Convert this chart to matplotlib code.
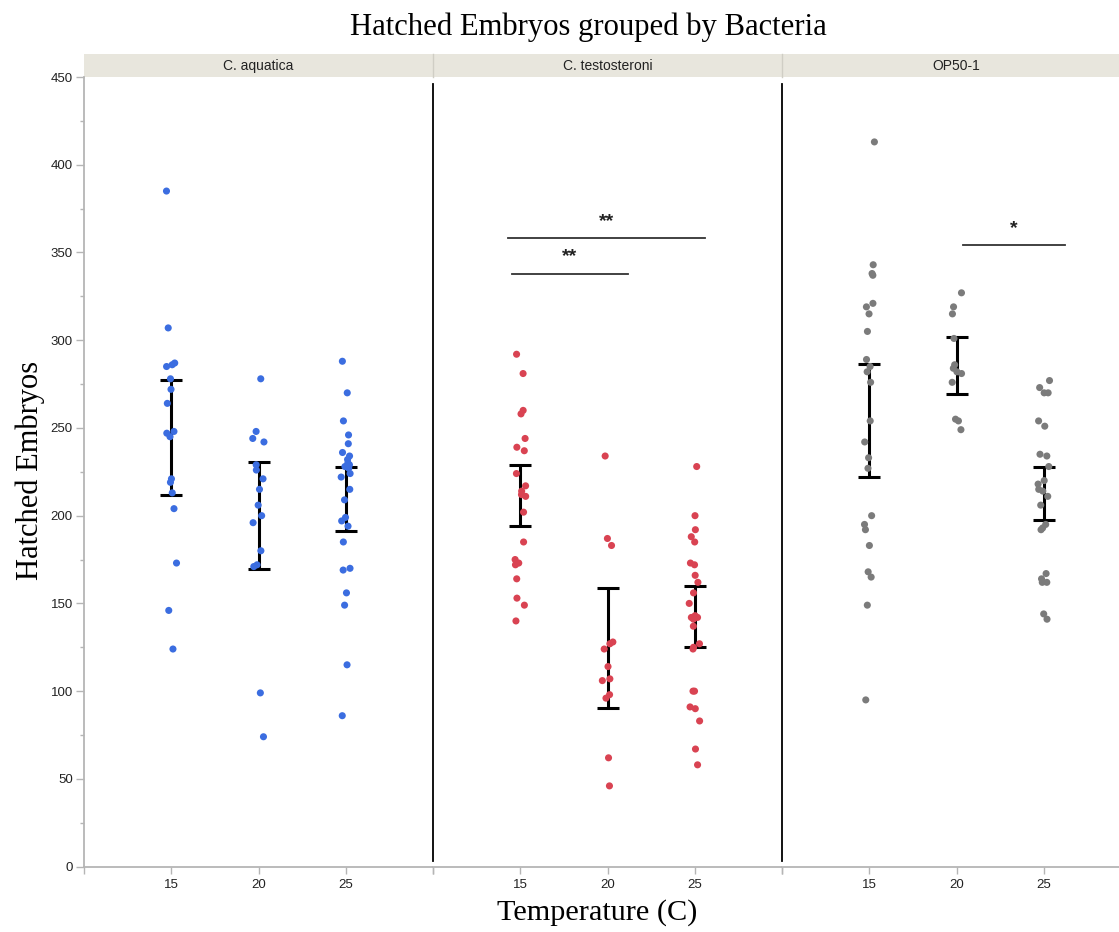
import numpy as np
import matplotlib
matplotlib.use("Agg")
import matplotlib.pyplot as plt
from matplotlib.patches import Rectangle

# ---------------- data ----------------
bacteria = ["C. aquatica", "C. testosteroni", "OP50-1"]
temperatures = [15, 20, 25]

aquatica_15 = [385, 307, 287, 286, 285, 278, 272, 264, 248, 247, 245, 221, 219, 213, 204, 173, 146, 124]
aquatica_20 = [278, 248, 244, 242, 229, 226, 221, 215, 206, 200, 196, 180, 172, 171, 99, 74]
aquatica_25 = [288, 270, 254, 246, 241, 236, 234, 232, 230, 229, 228, 227, 224, 222, 215, 209,
               199, 197, 194, 185, 170, 169, 156, 149, 115, 86]

testosteroni_15 = [292, 281, 260, 258, 244, 239, 237, 224, 217, 214, 212, 211, 202, 185, 175,
                   173, 172, 164, 153, 149, 140]
testosteroni_20 = [234, 187, 183, 128, 127, 124, 114, 107, 106, 98, 96, 62, 46]
testosteroni_25 = [228, 200, 192, 188, 185, 173, 172, 166, 162, 156, 150, 143, 142, 142, 141,
                   137, 127, 125, 124, 100, 100, 91, 90, 83, 67, 58]

op50_15 = [413, 343, 338, 337, 321, 319, 315, 305, 289, 285, 282, 276, 254, 242, 233, 227,
           200, 195, 192, 183, 168, 165, 149, 95]
op50_20 = [327, 319, 315, 301, 286, 284, 282, 281, 276, 255, 254, 249]
op50_25 = [277, 273, 270, 270, 254, 251, 235, 234, 228, 220, 218, 215, 214, 211, 206, 195,
           193, 192, 167, 164, 162, 162, 144, 141]

# error bar bounds (lower, upper) per temperature
aquatica_err_low = [212, 169.5, 191.5]
aquatica_err_high = [277.5, 230.5, 227.5]
testosteroni_err_low = [194, 90.5, 125]
testosteroni_err_high = [229, 158.5, 160]
op50_err_low = [222, 269.5, 197.5]
op50_err_high = [286.5, 302, 228]

# significance annotations: (panel, x_start, x_end, y, label)
sig_bars = [
    (1, 14.3, 25.6, 358, "**"),
    (1, 14.5, 21.2, 338, "**"),
    (2, 20.4, 26.2, 354, "*"),
]

groups = {
    "C. aquatica": [aquatica_15, aquatica_20, aquatica_25],
    "C. testosteroni": [testosteroni_15, testosteroni_20, testosteroni_25],
    "OP50-1": [op50_15, op50_20, op50_25],
}
err_bounds = {
    "C. aquatica": (aquatica_err_low, aquatica_err_high),
    "C. testosteroni": (testosteroni_err_low, testosteroni_err_high),
    "OP50-1": (op50_err_low, op50_err_high),
}
colors = {"C. aquatica": "#3b6de0", "C. testosteroni": "#d94352", "OP50-1": "#7b7b7b"}

# ---------------- figure ----------------
W, H = 1119, 932
fig = plt.figure(figsize=(W / 100, H / 100), dpi=100)
fig.patch.set_facecolor("white")

sans = ["Liberation Sans", "DejaVu Sans"]
serif = ["Liberation Serif", "DejaVu Serif"]

left_px = 84
panel_w_px = 349
top_px = 77
bottom_px = 866.6
ax_h = (bottom_px - top_px) / H
ax_b = 1 - bottom_px / H

rng = np.random.default_rng(3)
axes = []
for i, name in enumerate(bacteria):
    ax = fig.add_axes([(left_px + i * panel_w_px) / W, ax_b, panel_w_px / W, ax_h])
    axes.append(ax)
    ax.set_xlim(10, 30)
    ax.set_ylim(0, 450)
    for s in ["top", "right"]:
        ax.spines[s].set_visible(False)
    ax.spines["bottom"].set_color("#b5b5b5")
    ax.spines["bottom"].set_linewidth(1.3)
    if i == 0:
        ax.spines["left"].set_color("#b5b5b5")
        ax.spines["left"].set_linewidth(1.3)
        ax.set_yticks(np.arange(0, 451, 50))
        ax.set_yticks(np.arange(25, 450, 50), minor=True)
        ax.tick_params(axis="y", which="major", length=6, width=1, color="#b5b5b5",
                       labelsize=9.5, labelcolor="#222222", pad=2)
        ax.tick_params(axis="y", which="minor", length=3, width=1, color="#b5b5b5")
        for lab in ax.get_yticklabels():
            lab.set_family(sans)
    else:
        ax.spines["left"].set_visible(False)
        ax.set_yticks([])
        # black divider line
        ax.plot([10, 10], [3, 446], color="black", lw=1.3, clip_on=False, zorder=5)
    ax.set_xticks([10, 15, 20, 25, 30])
    ax.set_xticklabels(["", "15", "20", "25", ""])
    ax.tick_params(axis="x", length=5, width=1, color="#b5b5b5", labelsize=9.5,
                   labelcolor="#222222", pad=4)
    for lab in ax.get_xticklabels():
        lab.set_family(sans)

    # points and error bars
    for j, t in enumerate(temperatures):
        vals = np.array(groups[name][j], dtype=float)
        xs = t + rng.uniform(-0.33, 0.33, size=len(vals))
        ax.scatter(xs, vals, s=26, color=colors[name], edgecolors="none", zorder=4)
        lo = err_bounds[name][0][j]
        hi = err_bounds[name][1][j]
        ax.errorbar([t], [(lo + hi) / 2], yerr=[[(hi - lo) / 2], [(hi - lo) / 2]], fmt="none",
                    ecolor="black", elinewidth=2.2, capsize=8, capthick=2.2, zorder=3)

    # header strip
    strip_h = 23 / (bottom_px - top_px)
    ax.add_patch(Rectangle((0, 1), 1, strip_h, transform=ax.transAxes, facecolor="#e8e6dd",
                           edgecolor="none", clip_on=False, zorder=1))
    if i > 0:
        ax.plot([0, 0], [1, 1 + strip_h], transform=ax.transAxes, color="#d0cec5", lw=1,
                clip_on=False, zorder=2)
    ax.text(0.5, 1 + strip_h / 2, name, transform=ax.transAxes, ha="center", va="center",
            fontsize=10, family=sans, color="#222222")

for panel, x0, x1, y, label in sig_bars:
    ax = axes[panel]
    ax.plot([x0, x1], [y, y], color="#333333", lw=1.3, zorder=5)
    ax.text((x0 + x1) / 2, y + 5, label, ha="center", va="bottom", fontsize=14,
            family=sans, color="#222222", fontweight="bold")

fig.text(588.5 / W, 1 - 27 / H, "Hatched Embryos grouped by Bacteria", ha="center", va="center",
         fontsize=22.1, family=serif)
fig.text(30 / W, 1 - 470 / H, "Hatched Embryos", ha="center", va="center", rotation=90,
         fontsize=22, family=serif)
fig.text(597 / W, 1 - 913 / H, "Temperature (C)", ha="center", va="center",
         fontsize=21.8, family=serif)

fig.savefig("out.png", dpi=100)
